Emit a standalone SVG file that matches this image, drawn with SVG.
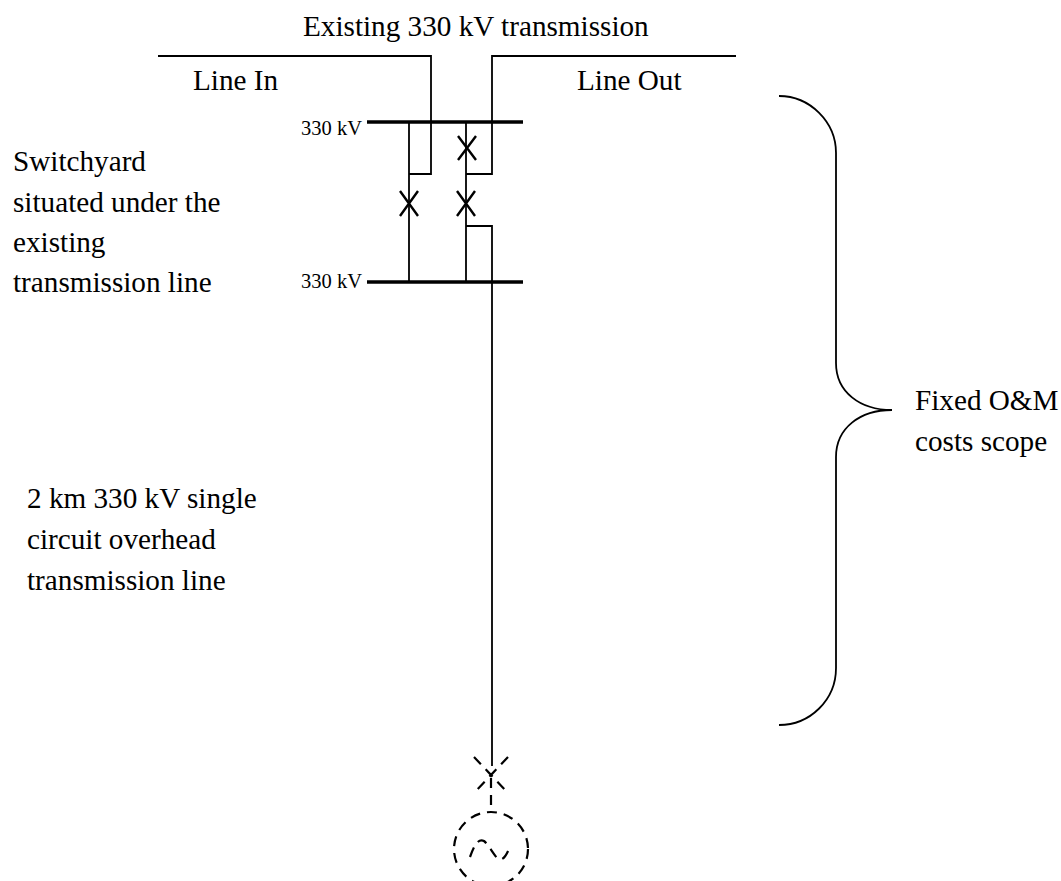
<svg xmlns="http://www.w3.org/2000/svg" width="1061" height="881" viewBox="0 0 1061 881">
<style>
.t{font-family:"Liberation Serif","Times New Roman",serif;font-size:29.2px;fill:#000}
.s{font-family:"Liberation Serif","Times New Roman",serif;font-size:20.5px;fill:#000}
.w{fill:none;stroke:#000;stroke-width:1.8}
.bus{fill:none;stroke:#000;stroke-width:3.5}
.x{fill:none;stroke:#000;stroke-width:2.4}
.d{fill:none;stroke:#000;stroke-width:2.2;stroke-dasharray:10 7}
</style>
<rect width="1061" height="881" fill="#fff"/>
<g id="labels">
<text class="t" x="303" y="36">Existing 330 kV transmission</text>
<text class="t" x="193" y="90">Line In</text>
<text class="t" x="577" y="90">Line Out</text>
<text class="t" x="13" y="171">Switchyard</text>
<text class="t" x="13" y="212">situated under the</text>
<text class="t" x="13" y="252">existing</text>
<text class="t" x="13" y="292">transmission line</text>
<text class="t" x="27" y="508">2 km 330 kV single</text>
<text class="t" x="27" y="549">circuit overhead</text>
<text class="t" x="27" y="590">transmission line</text>
<text class="t" x="915" y="410">Fixed O&amp;M</text>
<text class="t" x="915" y="451">costs scope</text>
</g>
<g id="bus-top">
<line class="bus" x1="367" y1="122" x2="523" y2="122"/>
<text class="s" x="362" y="135" text-anchor="end">330 kV</text>
</g>
<g id="bus-bottom">
<line class="bus" x1="367" y1="282" x2="523" y2="282"/>
<text class="s" x="362" y="288" text-anchor="end">330 kV</text>
</g>
<g id="connectors">
<polyline class="w" points="158,56 431,56 431,174 409,174"/>
<polyline class="w" points="736,56 492,56 492,174 466,174"/>
<line class="w" x1="409" y1="122" x2="409" y2="282"/>
<line class="w" x1="466" y1="122" x2="466" y2="282"/>
<polyline class="w" points="466,226 492,226 492,766"/>
</g>
<g id="breaker-1">
<path class="x" d="M400,191 L418,216 M418,191 L400,216"/>
</g>
<g id="breaker-2">
<path class="x" d="M458,136 L476,160 M476,136 L458,160"/>
</g>
<g id="breaker-3">
<path class="x" d="M457,191 L475,216 M475,191 L457,216"/>
</g>
<g id="future-breaker">
<path class="d" d="M474,757 L508,793 M508,757 L474,793"/>
<path class="d" d="M491,778 L491,812" stroke-dasharray="12 8"/>
</g>
<g id="generator">
<circle class="d" cx="491" cy="849" r="37" stroke-dasharray="11 8"/>
<path class="d" d="M470,857 C474,846 478,838 484,841 C488,844 492,852 497,858 C501,862 506,858 510,846" stroke-dasharray="9 6"/>
</g>
<g id="brace">
<path class="w" d="M779,96 C810,96 836,122 836,153 L836,363 C836,392 860,410 892,410 C860,410 836,428 836,457 L836,668 C836,700 810,725 779,725"/>
</g>
</svg>
